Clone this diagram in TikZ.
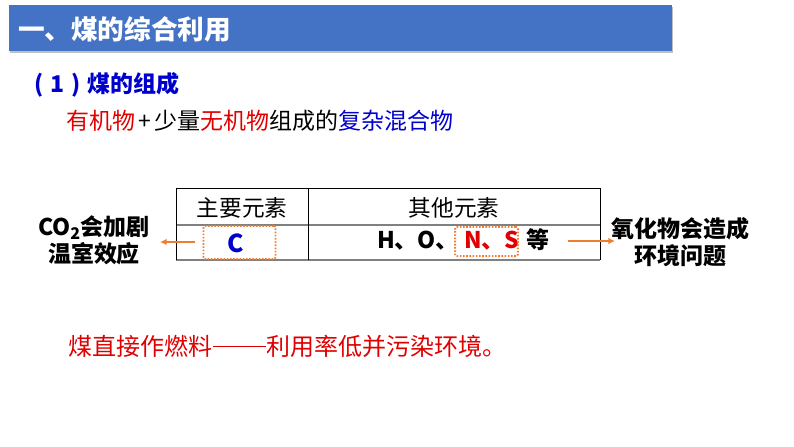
\documentclass[tikz,border=0pt]{standalone}
\usepackage{fontspec}
\setmainfont{Noto Sans CJK SC}
\usetikzlibrary{arrows.meta,shadows}
\definecolor{banner}{HTML}{4472C4}
\definecolor{pure}{HTML}{0000CC}
\definecolor{hot}{HTML}{E00000}
\definecolor{tang}{HTML}{ED7D31}
\definecolor{rule}{HTML}{808080}
\tikzset{
  txt/.style={inner sep=0pt,outer sep=0pt,font=\fontsize{#1}{#1}\selectfont},
  txtb/.style={inner sep=0pt,outer sep=0pt,font=\fontsize{#1}{#1}\selectfont\bfseries},
  lbl/.style={inner sep=0pt,outer sep=0pt,align=center,font=\fontsize{17.25}{20.5}\selectfont\bfseries},
  dots/.style={draw=tang,line width=1.4pt,dash pattern=on 1.2pt off 1.2pt,rounded corners=1.5pt,fill=none},
  arr/.style={draw=tang,line width=1.1pt,-{Latex[length=5pt,width=5pt]}},
  thin/.style={draw=black,line width=0.7pt},
  thick/.style={draw=rule,line width=1.1pt}
}
\begin{document}
\begin{tikzpicture}[x=0.75pt,y=-0.75pt]
\useasboundingbox (0,0) rectangle (794,447);
\fill[black!25] (10,7) rectangle (673,53);
\node[fill=banner,minimum width=497.25pt,minimum height=34.5pt,inner sep=0pt,anchor=north west] (ban) at (9,5) {};
\node[txtb=20,text=white,anchor=west] (title) at (18,29) {一、煤的综合利用};
\node[txtb=17.25,text=pure,anchor=west] (sec) at (35,85) {(\hspace{5pt}1\hspace{5pt})\hspace{5pt}煤的组成};
\node[txt=17.25,anchor=west] (sub) at (66,121) {\textcolor{hot}{有机物}\hspace{2.5pt}+\hspace{2.5pt}少量\textcolor{hot}{无机物}组成的\textcolor{pure}{复杂混合物}};
% table
\coordinate (tl) at (176,188);
\coordinate (tr) at (600,188);
\coordinate (ml) at (176,225);
\coordinate (mr) at (600,225);
\coordinate (bl) at (176,260);
\coordinate (br) at (600,260);
\coordinate (dt) at (308,188);
\coordinate (db) at (308,260);
\draw[thick] (ml) -- (mr);
\draw[thick] (bl) -- (br);
\draw[thin] (tl) -- (tr);
\draw[thin] (tl) -- (bl);
\draw[thin] (tr) -- (br);
\draw[thin] (dt) -- (db);
\node[txt=17] (h1) at (242,208) {主要元素};
\node[txt=17] (h2) at (454,208) {其他元素};
\node[txtb=18.5,text=pure] (c) at (236,243) {C};
\node[txtb=17.25,anchor=west] (others) at (377,240) {H、O、\hspace{4pt}\textcolor{hot}{N、S}\hspace{5pt}等};
\node[dots,minimum width=54pt,minimum height=25pt,inner sep=0pt] (cbox) at (239.5,242.5) {};
\node[dots,minimum width=47pt,minimum height=22pt,inner sep=0pt] (nsbox) at (486.5,241.5) {};
\node[lbl] (co2) at (94,240) {CO\textsubscript{2}会加剧\\温室效应};
\node[lbl] (nox) at (680,242) {氧化物会造成\\环境问题};
\coordinate (cs) at (195,242);
\coordinate (ce) at (160,242);
\draw[arr] (cs) -- (ce);
\coordinate (ns) at (568,241);
\coordinate (ne) at (615,241);
\draw[arr] (ns) -- (ne);
\node[txt=18,text=hot,anchor=west] (bot) at (69,346) {煤直接作燃料\rule[0.33em]{40pt}{0.7pt}利用率低并污染环境。};
\end{tikzpicture}
\end{document}
